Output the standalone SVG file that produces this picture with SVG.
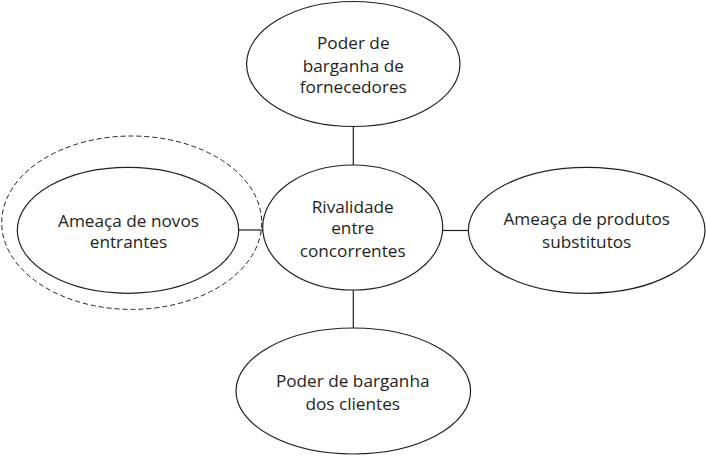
<svg xmlns="http://www.w3.org/2000/svg" width="706" height="456" viewBox="0 0 706 456">
<style>
.n{fill:#fff;stroke:#231f20;stroke-width:1.2}
.d{fill:none;stroke:#231f20;stroke-width:1;stroke-dasharray:5 3}
.c{stroke:#231f20;stroke-width:1.2;fill:none}
text{font-family:"Open Sans","Liberation Sans",sans-serif;font-size:17.2px;fill:#231f20;text-anchor:middle}
</style>
<rect width="706" height="456" fill="#fff"/>
<g id="connectors">
<line class="c" x1="353.3" y1="126.5" x2="353.3" y2="165"/>
<line class="c" x1="353.3" y1="290" x2="353.3" y2="328"/>
<line class="c" x1="238.7" y1="230" x2="262.7" y2="230"/>
<line class="c" x1="442.7" y1="230.5" x2="468.3" y2="230.5"/>
</g>
<g id="top">
<ellipse class="n" cx="353.3" cy="64" rx="106.7" ry="62.5"/>
<text x="353.3" y="49.3">Poder de</text>
<text x="353.3" y="71.7">barganha de</text>
<text x="353.3" y="93.3">fornecedores</text>
</g>
<g id="center">
<ellipse class="n" cx="352.7" cy="227.5" rx="90" ry="62.5"/>
<text x="352.7" y="212.7">Rivalidade</text>
<text x="352.7" y="234.3">entre</text>
<text x="352.7" y="256.7">concorrentes</text>
</g>
<g id="left">
<ellipse class="d" cx="131.7" cy="222.7" rx="130" ry="86.7"/>
<ellipse class="n" cx="128" cy="230.3" rx="110.7" ry="63"/>
<text x="128.5" y="226.7">Ameaça de novos</text>
<text x="128.5" y="248.3">entrantes</text>
</g>
<g id="right">
<ellipse class="n" cx="586.7" cy="230.3" rx="118.3" ry="63"/>
<text x="586.7" y="225">Ameaça de produtos</text>
<text x="586.7" y="248.3">substitutos</text>
</g>
<g id="bottom">
<ellipse class="n" cx="353.3" cy="391" rx="117.3" ry="63"/>
<text x="352.7" y="387.3">Poder de barganha</text>
<text x="352.7" y="410">dos clientes</text>
</g>
</svg>
